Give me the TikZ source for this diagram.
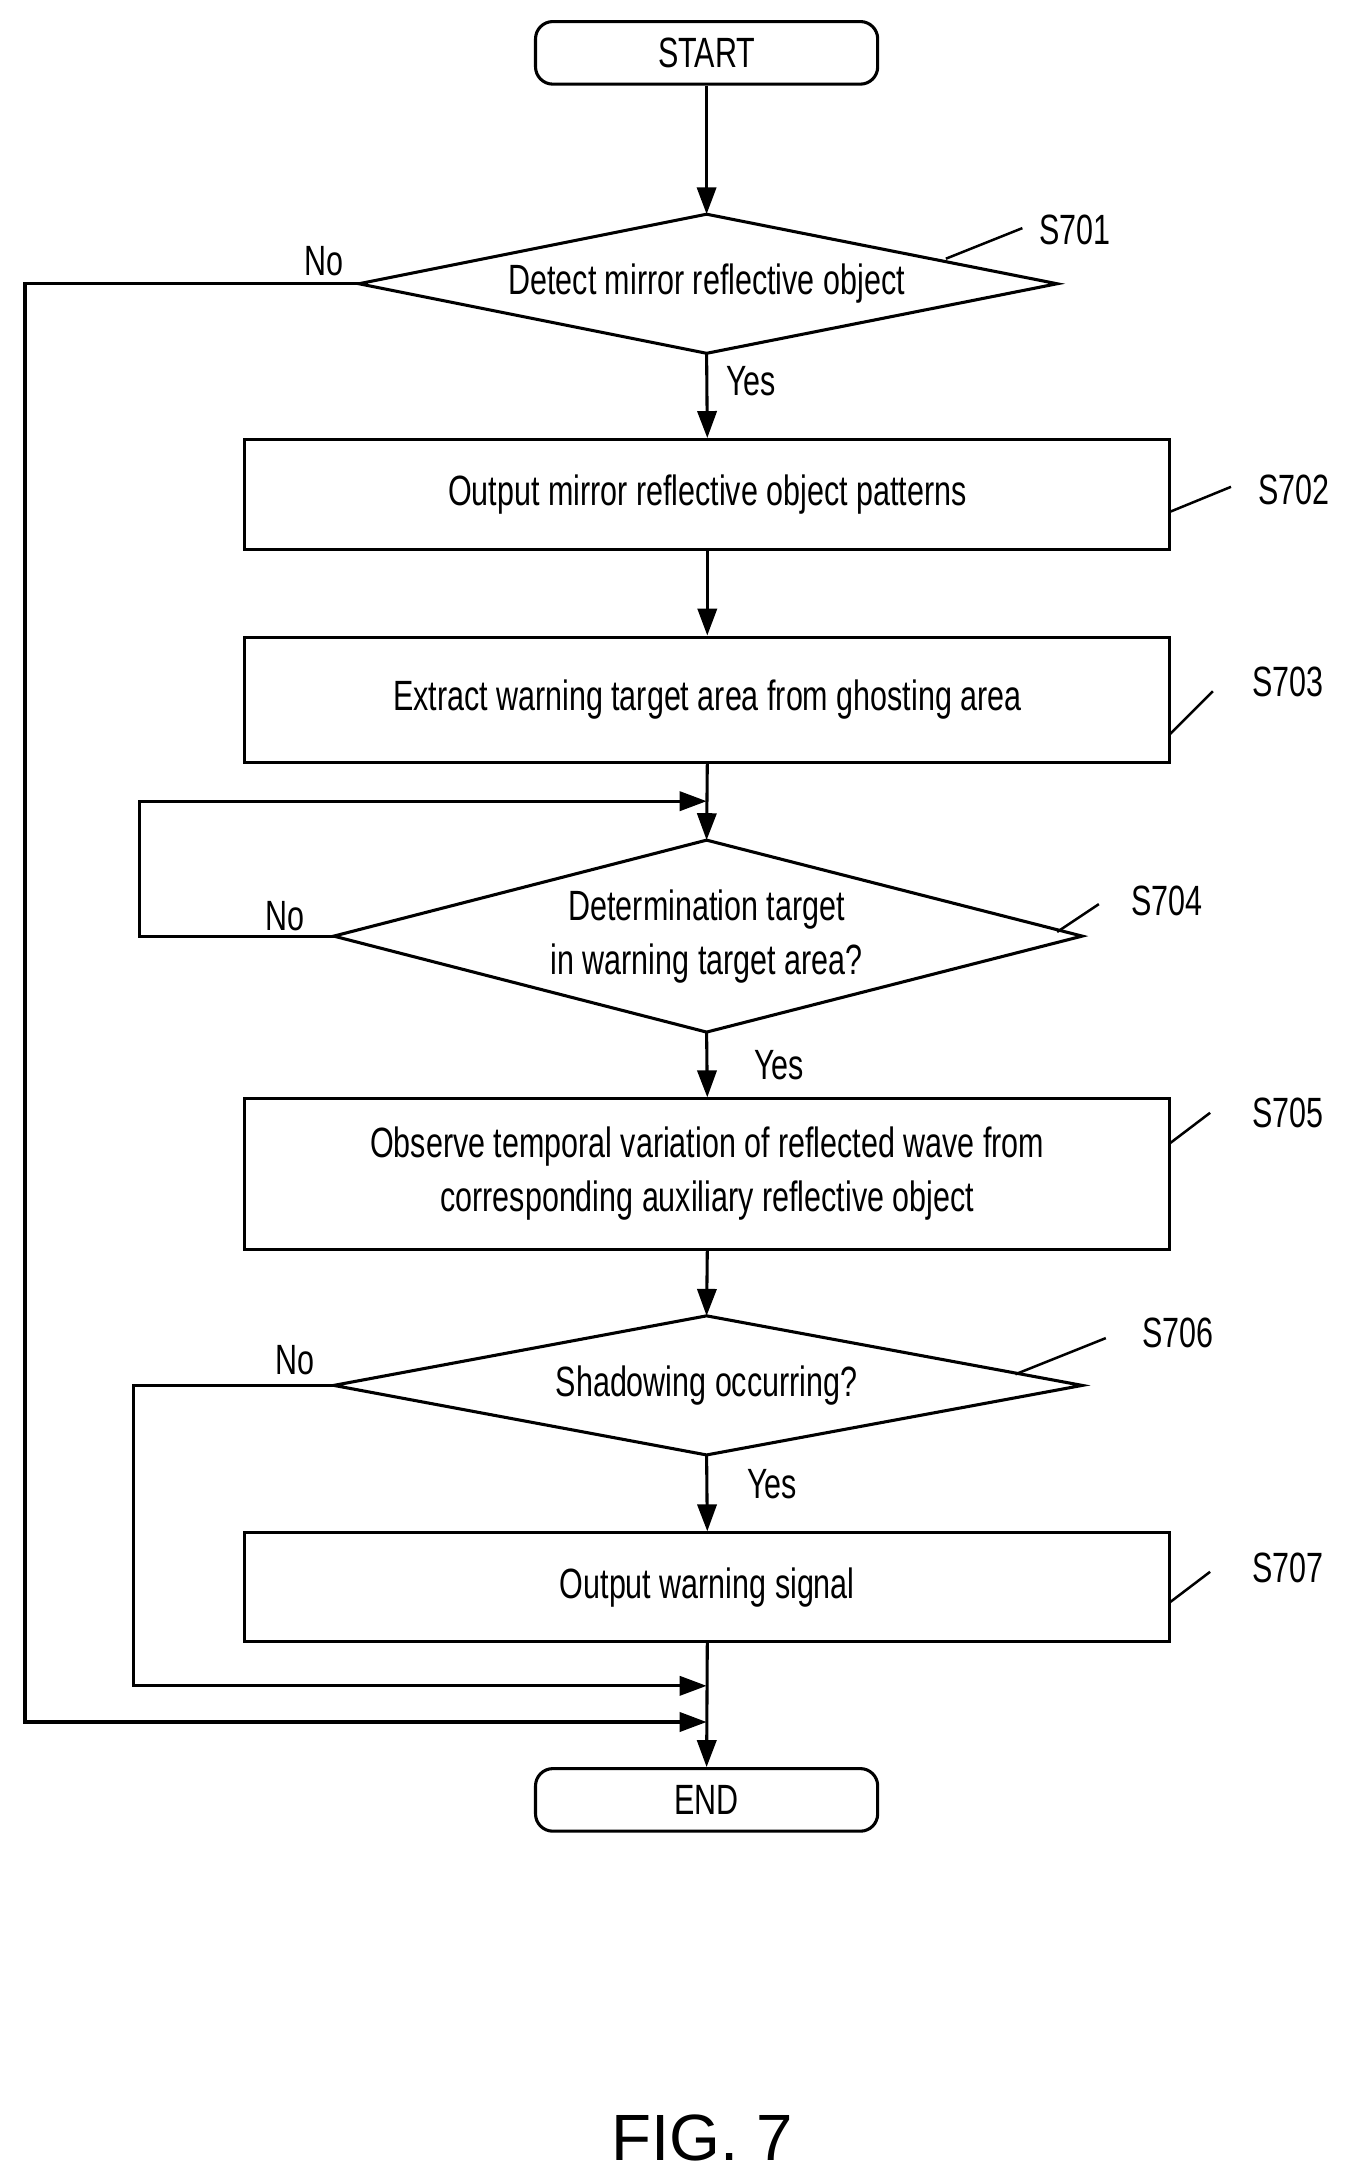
\documentclass[tikz,border=0pt]{standalone}
\usepackage{fontspec}
\setmainfont[FakeStretch=0.72]{Liberation Sans}
\newfontfamily\figfont{Liberation Sans}
\usetikzlibrary{arrows.meta,shapes.geometric}
\begin{document}
\begin{tikzpicture}[x=0.0254cm,y=-0.0254cm,line width=1.6pt,
  every node/.style={font=\fontsize{22}{28}\selectfont},
  term/.style={draw,rounded corners=9pt,minimum width=246*0.0254cm,minimum height=45*0.0254cm,inner sep=0pt},
  box/.style={draw,minimum width=665*0.0254cm,inner sep=0pt,align=center},
  arr/.style={-{Triangle[length=14pt,width=10pt]}},
  lbl/.style={inner sep=0pt}]
\useasboundingbox (0,0) rectangle (980,1568);
\node[term] (start) at (508,38) {START};
\coordinate (a1) at (508,154);
\draw[thick,line width=1.6pt] (258,204) -- (508,154) -- (760,204) -- (508,254) -- cycle;
\node (d1) at (508,204) {Detect mirror reflective object};
\node[box,minimum height=79*0.0254cm] (b2) at (508.5,355.5) {Output mirror reflective object patterns};
\node[box,minimum height=90*0.0254cm] (b3) at (508.5,503) {Extract warning target area from ghosting area};
\draw (240,673) -- (508,604) -- (778,673) -- (508,742) -- cycle;
\node[align=center] (d4) at (508,673) {Determination target\\in warning target area?};
\node[box,minimum height=108*0.0254cm] (b5) at (508.5,844) {Observe temporal variation of reflected wave from\\corresponding auxiliary reflective object};
\draw (240,996) -- (508,946) -- (778,996) -- (508,1046) -- cycle;
\node (d6) at (508,996) {Shadowing occurring?};
\node[box,minimum height=78*0.0254cm] (b7) at (508.5,1141) {Output warning signal};
\node[term] (end) at (508,1294) {END};
\coordinate (m1) at (508,1212);
\coordinate (m2) at (508,1238);
% main flow
\draw[arr] (start) -- (a1);
\draw[arr] (508,254) -- (b2.north);
\draw[arr] (b2.south) -- (b3.north);
\draw[arr] (b3.south) -- (508,604);
\draw[arr] (508,742) -- (b5.north);
\draw[arr] (b5.south) -- (508,946);
\draw[arr] (508,1046) -- (b7.north);
\draw[arr] (b7.south) -- (end.north);
% no branches
\draw[arr] (258,204) -- (18,204) -- (18,1238) -- (m2);
\draw[arr] (240,673) -- (100,673) -- (100,576) -- (508,576);
\draw[arr] (240,996) -- (96,996) -- (96,1212) -- (m1);
\node[lbl] at (233,188) {No};
\node[lbl] at (205,659) {No};
\node[lbl] at (212,978) {No};
\node[lbl] at (540,274) {Yes};
\node[lbl] at (560,766) {Yes};
\node[lbl] at (555,1067) {Yes};
% step labels
\begin{scope}[line width=1.3pt]
\draw (680,186) -- (735,164); \node[lbl] at (773,165) {S701};
\draw (841,368) -- (885,350); \node[lbl] at (930,352) {S702};
\draw (841,528) -- (872,497); \node[lbl] at (926,490) {S703};
\draw (760,670) -- (790,650); \node[lbl] at (839,648) {S704};
\draw (841,822) -- (870,800); \node[lbl] at (926,800) {S705};
\draw (730,988) -- (795,962); \node[lbl] at (847,958) {S706};
\draw (841,1152) -- (870,1130); \node[lbl] at (926,1127) {S707};
\end{scope}
\node[lbl,font=\figfont\fontsize{34}{40}\selectfont] (fig) at (505,1537) {FIG. 7};
\end{tikzpicture}
\end{document}
